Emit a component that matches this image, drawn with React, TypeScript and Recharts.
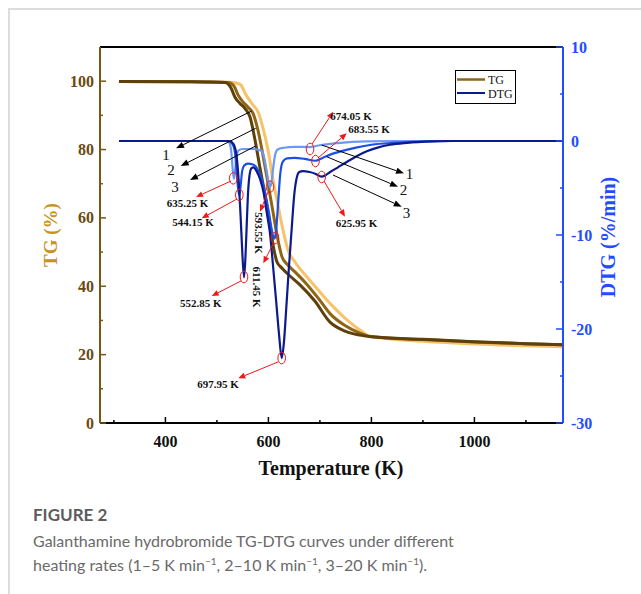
import React from 'react';
import { ComposedChart, Line, XAxis, YAxis, ReferenceLine, ReferenceDot } from 'recharts';

// ---------- data (Temperature K, value) ----------
const TG_1: [number, number][] = [
  [310, 99.9], [450, 99.8], [515.7, 99.6], [527.4, 98], [535.1, 95.3], [544.8, 93.5], [554.6, 92],
  [564.3, 89.5], [574, 82.8], [583.7, 74.6], [593.4, 66.7], [603.1, 57.9], [610.9, 50.6], [616.7, 47.1],
  [626.4, 45.3], [641.9, 43], [661.3, 40.4], [690.5, 35.6], [719.6, 29.5], [748.7, 26.9], [777.8, 25.7],
  [801, 25.2], [900, 24.5], [1000, 23.8], [1100, 23.2], [1172, 22.9],
];
const TG_2: [number, number][] = [
  [310, 99.9], [450, 99.8], [521.5, 99.6], [533.2, 98.6], [541, 96], [550.7, 93.9], [560.4, 92.4],
  [570.1, 90.6], [579.8, 85.6], [589.5, 78.3], [599.2, 70.1], [608.9, 61.7], [618.6, 53.5], [626.4, 48.6],
  [636.1, 46.5], [651.6, 44.2], [671, 41.2], [696.3, 36.6], [719.6, 32], [748.7, 28.5], [777.8, 26.3],
  [801, 25.2], [900, 24.4], [1000, 23.7], [1100, 23.2], [1172, 22.9],
];
const TG_3: [number, number][] = [
  [310, 99.9], [450, 99.8], [525.4, 99.7], [544.8, 99.1], [556.5, 96], [568.1, 93.4], [579.8, 91],
  [589.5, 86.3], [599.2, 79.9], [608.9, 71.1], [618.6, 63.8], [628.3, 56.5], [638, 50.6], [651.6, 47.1],
  [674.9, 42.7], [700.1, 38.3], [719.6, 35], [748.7, 30.7], [777.8, 27.2], [801, 25.2], [900, 23.9],
  [1000, 23.1], [1100, 22.6], [1172, 22.3],
];

const DTG_1: [number, number][] = [
  [310, 0], [520, 0], [525, -0.3], [528, -1.2], [531, -3.2], [533, -4.0], [535, -3.3], [538, -1.8],
  [542, -1.0], [550, -0.85], [570, -0.85], [585, -1.0], [591, -1.6], [596, -3.0], [600, -4.3], [603, -4.9],
  [606, -4.4], [609, -3.0], [613, -1.5], [618, -0.9], [630, -0.72], [650, -0.62], [680, -0.65], [700, -0.45],
  [740, -0.2], [790, -0.05], [850, 0], [1172, 0],
];
const DTG_2: [number, number][] = [
  [310, 0], [522, 0], [530, -0.3], [535, -1.2], [538, -3], [541, -5], [543.5, -5.8], [546, -4.8],
  [549, -3.2], [553, -2.6], [560, -2.4], [570, -2.5], [578, -2.9], [586, -3.9], [594, -5.6], [601, -7.6],
  [607, -9.6], [611.5, -10.4], [615, -9.5], [619, -6.5], [623, -3.5], [628, -2.2], [636, -1.85], [650, -1.8],
  [670, -1.9], [691, -2.1], [705, -1.8], [720, -1.45], [740, -1.1], [770, -0.7], [800, -0.4], [840, -0.2],
  [880, -0.1], [950, 0], [1172, 0],
];
const DTG_3: [number, number][] = [
  [310, 0], [524, 0], [532, -0.3], [538, -1.5], [542, -4], [546, -8], [549, -11.5], [552.6, -14.5],
  [555, -12.8], [557.5, -9.5], [560, -6], [563, -3.8], [567, -2.9], [571, -2.8], [577, -3.2], [584, -4.1],
  [591, -5.6], [597, -7.7], [603, -9.8], [609, -13.3], [615, -17], [621, -20.8], [625.8, -23.1], [630, -21.5],
  [635, -17.5], [640, -13.3], [645, -9.5], [650, -5.8], [655, -3.9], [660, -3.3], [667, -3.2], [680, -3.3],
  [692, -3.5], [703, -3.8], [712, -3.6], [720, -3.3], [735, -2.8], [753, -2.2], [772, -1.6], [791, -1.1],
  [812, -0.7], [836, -0.4], [869, -0.2], [920, -0.05], [960, 0], [1172, 0],
];

const X_TICKS = [300, 400, 500, 600, 700, 800, 900, 1000, 1100];
const X_LABELED = [400, 600, 800, 1000];
const TG_TICKS = [0, 10, 20, 30, 40, 50, 60, 70, 80, 90, 100];
const TG_LABELED = [0, 20, 40, 60, 80, 100];
const DTG_TICKS = [-30, -25, -20, -15, -10, -5, 0, 5, 10];
const DTG_LABELED = [-30, -20, -10, 0, 10];

// annotations, in (T, DTG) data coordinates
const BLACK_ARROWS: [number, number, number, number][] = [
  [567.5, 3.19, 420.6, -0.78], [575.3, 1.35, 429.7, -2.66], [575.3, -0.53, 447.8, -4.15],
  [703.5, -0.43, 863.3, -3.44], [713.2, -1.67, 851.6, -4.86], [725.4, -3.62, 858.8, -6.99],
];
const CURVE_LABELS: [string, number, number][] = [
  ['1', 401.2, -1.49], ['2', 410.9, -3.08], ['3', 418.6, -4.9],
  ['1', 874, -3.51], ['2', 862.3, -5.21], ['3', 868.2, -7.66],
];
const PEAK_CIRCLES: [number, number][] = [
  [531.8, -3.97], [543.5, -5.74], [603.1, -4.86], [612.8, -10.32], [552.6, -14.47], [625.8, -23.09],
  [680.8, -0.85], [691.4, -2.13], [703.5, -3.83],
];
const RED_ARROWS: [number, number, number, number][] = [
  [527.4, -4.26, 459.4, -5.96], [539, -6.17, 470.5, -8.22], [599.2, -5.43, 583.7, -7.52],
  [608.9, -10.96, 590.1, -13.01], [546.8, -14.89, 489.9, -16.49], [618.6, -23.51, 541.5, -25.24],
  [684.7, -0.32, 726, 3.12], [696.3, -1.81, 752, 0.82], [707.9, -4.26, 748.7, -8.05],
];
const PEAK_LABELS: [string, number, number, number][] = [
  ['635.25 K', 442.9, -6.6, 0], ['544.15 K', 453.6, -8.67, 0], ['593.55 K', 580.8, -9.79, 90],
  ['611.45 K', 577.8, -15.53, 90], ['552.85 K', 468.5, -17.27, 0], ['697.95 K', 502.1, -25.85, 0],
  ['674.05 K', 760.4, 2.66, 0], ['683.55 K', 795.3, 1.24, 0], ['625.95 K', 771.3, -8.76, 0],
];

const toPts = (a: [number, number][]) => a.map(([T, v]) => ({ T, v }));

const SERIF = '"Liberation Serif", "Times New Roman", serif';
const BROWN_AXIS = '#7a5616';
const BROWN_TXT = '#6b4a10';
const BLUE = '#1f4dff';

const BottomTick = (p: any) => {
  const { x, y, payload } = p;
  const major = X_LABELED.includes(payload.value);
  return (
    <g>
      <line x1={x} y1={y} x2={x} y2={y - (major ? 6 : 3)} stroke="#000" strokeWidth={1.5} />
      {major && (
        <text x={x} y={y + 18} textAnchor="middle" dominantBaseline="central" fontFamily={SERIF}
          fontWeight="bold" fontSize={16} fill="#111">{payload.value}</text>
      )}
    </g>
  );
};
const TopTick = (p: any) => {
  const { x, y, payload } = p;
  const major = X_LABELED.includes(payload.value);
  return <line x1={x} y1={y} x2={x} y2={y + (major ? 6 : 3)} stroke="#000" strokeWidth={1.5} />;
};
const LeftTick = (p: any) => {
  const { x, y, payload } = p;
  const major = TG_LABELED.includes(payload.value);
  return (
    <g>
      <line x1={x} y1={y} x2={x + (major ? 6 : 3)} y2={y} stroke={BROWN_AXIS} strokeWidth={1.5} />
      {major && (
        <text x={x - 6} y={y} textAnchor="end" dominantBaseline="central" fontFamily={SERIF}
          fontWeight="bold" fontSize={16} fill={BROWN_TXT}>{payload.value}</text>
      )}
    </g>
  );
};
const RightTick = (p: any) => {
  const { x, y, payload } = p;
  const major = DTG_LABELED.includes(payload.value);
  return (
    <g>
      <line x1={x} y1={y} x2={x - (major ? 7 : 3)} y2={y} stroke={BLUE} strokeWidth={1.5} />
      {major && (
        <text x={x + 8} y={y} textAnchor="start" dominantBaseline="central" fontFamily={SERIF}
          fontWeight="bold" fontSize={16} fill={BLUE}>{payload.value}</text>
      )}
    </g>
  );
};

const arrowShape = (color: string, width: number, L: number, W: number) => (p: any) => {
  const { x1, y1, x2, y2 } = p;
  if (![x1, y1, x2, y2].every((n) => typeof n === 'number' && isFinite(n))) return <g />;
  const a = Math.atan2(y2 - y1, x2 - x1);
  const bx = x2 - L * Math.cos(a);
  const by = y2 - L * Math.sin(a);
  const pts = `${x2},${y2} ${bx - W * Math.sin(a)},${by + W * Math.cos(a)} ${bx + W * Math.sin(a)},${by - W * Math.cos(a)}`;
  return (
    <g>
      <line x1={x1} y1={y1} x2={bx} y2={by} stroke={color} strokeWidth={width} />
      <polygon points={pts} fill={color} />
    </g>
  );
};
const blackArrow = arrowShape('#000', 1, 8, 3.2);
const redArrow = arrowShape('#f01818', 1, 7, 3);

export default function App() {
  return (
    <div style={{ position: 'absolute', left: 0, top: 0, width: 641, height: 594, overflow: 'hidden', background: '#fff' }}>
      <div style={{ position: 'absolute', left: 8, top: 8, width: 700, height: 700, borderLeft: '2px solid #dcdcdc', borderTop: '2px solid #dcdcdc' }} />
      <div style={{ position: 'absolute', left: 0, top: 0 }}>
        <ComposedChart width={641} height={480} margin={{ top: 46, right: 18, bottom: 17, left: 40 }}>
          <XAxis xAxisId="b" type="number" dataKey="T" domain={[273, 1172]} ticks={X_TICKS} interval={0}
            tickSize={0} tickMargin={0} height={40} axisLine={{ stroke: '#000', strokeWidth: 2 }} tickLine={false}
            tick={(p: any) => <BottomTick {...p} />} />
          <XAxis xAxisId="t" orientation="top" type="number" dataKey="T" domain={[273, 1172]} ticks={X_TICKS}
            interval={0} tickSize={0} tickMargin={0} height={1} axisLine={{ stroke: '#000', strokeWidth: 2 }}
            tickLine={false} tick={(p: any) => <TopTick {...p} />} />
          <YAxis yAxisId="tg" orientation="left" type="number" domain={[0, 110]} ticks={TG_TICKS} interval={0}
            width={60} tickSize={0} tickMargin={0} axisLine={{ stroke: BROWN_AXIS, strokeWidth: 2 }} tickLine={false}
            tick={(p: any) => <LeftTick {...p} />} />
          <YAxis yAxisId="d" orientation="right" type="number" domain={[-30, 10]} ticks={DTG_TICKS} interval={0}
            width={60} tickSize={0} tickMargin={0} axisLine={{ stroke: BLUE, strokeWidth: 2 }} tickLine={false}
            tick={(p: any) => <RightTick {...p} />} />

          <Line xAxisId="b" yAxisId="tg" data={toPts(TG_3)} dataKey="v" type="monotone" stroke="#f7c36a"
            strokeWidth={3} dot={false} activeDot={false} isAnimationActive={false} />
          <Line xAxisId="b" yAxisId="tg" data={toPts(TG_2)} dataKey="v" type="monotone" stroke="#8f6414"
            strokeWidth={3} dot={false} activeDot={false} isAnimationActive={false} />
          <Line xAxisId="b" yAxisId="tg" data={toPts(TG_1)} dataKey="v" type="monotone" stroke="#5e410a"
            strokeWidth={3} dot={false} activeDot={false} isAnimationActive={false} />

          <Line xAxisId="b" yAxisId="d" data={toPts(DTG_1)} dataKey="v" type="monotone" stroke="#6d98f4"
            strokeWidth={2.2} dot={false} activeDot={false} isAnimationActive={false} />
          <Line xAxisId="b" yAxisId="d" data={toPts(DTG_2)} dataKey="v" type="monotone" stroke="#1c4fe6"
            strokeWidth={2.2} dot={false} activeDot={false} isAnimationActive={false} />
          <Line xAxisId="b" yAxisId="d" data={toPts(DTG_3)} dataKey="v" type="monotone" stroke="#0b1a8c"
            strokeWidth={2.2} dot={false} activeDot={false} isAnimationActive={false} />

          {BLACK_ARROWS.map((a, i) => (
            <ReferenceLine key={'ba' + i} xAxisId="b" yAxisId="d" segment={[{ x: a[0], y: a[1] }, { x: a[2], y: a[3] }]}
              stroke="#000" shape={blackArrow} />
          ))}
          {CURVE_LABELS.map((c, i) => (
            <ReferenceDot key={'cl' + i} xAxisId="b" yAxisId="d" x={c[1]} y={c[2]} r={0}
              shape={(p: any) => (
                <text x={p.cx} y={p.cy} textAnchor="middle" dominantBaseline="central" fontFamily={SERIF}
                  fontSize={15} fill="#111">{c[0]}</text>
              )} />
          ))}
          {RED_ARROWS.map((a, i) => (
            <ReferenceLine key={'ra' + i} xAxisId="b" yAxisId="d" segment={[{ x: a[0], y: a[1] }, { x: a[2], y: a[3] }]}
              stroke="#f01818" shape={redArrow} />
          ))}
          {PEAK_CIRCLES.map((c, i) => (
            <ReferenceDot key={'pc' + i} xAxisId="b" yAxisId="d" x={c[0]} y={c[1]} r={4}
              shape={(p: any) => (
                <ellipse cx={p.cx} cy={p.cy} rx={3.8} ry={5.8} fill="none" stroke="#f01818" strokeWidth={1} />
              )} />
          ))}
          {PEAK_LABELS.map((l, i) => (
            <ReferenceDot key={'pl' + i} xAxisId="b" yAxisId="d" x={l[1]} y={l[2]} r={0}
              shape={(p: any) => (
                <text x={p.cx} y={p.cy} textAnchor="middle" dominantBaseline="central" fontFamily={SERIF}
                  fontWeight="bold" fontSize={11} fill="#111"
                  transform={l[3] ? `rotate(${l[3]} ${p.cx} ${p.cy})` : undefined}>{l[0]}</text>
              )} />
          ))}
        </ComposedChart>
      </div>

      <svg width={641} height={480} style={{ position: 'absolute', left: 0, top: 0, pointerEvents: 'none' }}>
        <text x={50} y={235} transform="rotate(-90 50 235)" textAnchor="middle" dominantBaseline="central"
          fontFamily={SERIF} fontWeight="bold" fontSize={19} fill="#c8921c">TG (%)</text>
        <text x={608} y={237} transform="rotate(-90 608 237)" textAnchor="middle" dominantBaseline="central"
          fontFamily={SERIF} fontWeight="bold" fontSize={20} fill={BLUE}>DTG (%/min)</text>
        <text x={331} y={468} textAnchor="middle" dominantBaseline="central"
          fontFamily={SERIF} fontWeight="bold" fontSize={20} fill="#111">Temperature (K)</text>
        <rect x={455.5} y={70.5} width={60} height={33} fill="#fff" stroke="#000" strokeWidth={1} />
        <line x1={457} y1={79.5} x2={485} y2={79.5} stroke="#8b6420" strokeWidth={2.5} />
        <line x1={457} y1={93} x2={485} y2={93} stroke="#0b1a8c" strokeWidth={2} />
        <text x={488} y={80} dominantBaseline="central" fontFamily={SERIF} fontSize={12} fill="#111">TG</text>
        <text x={488} y={93.5} dominantBaseline="central" fontFamily={SERIF} fontSize={12} fill="#111">DTG</text>
      </svg>

      <div style={{ position: 'absolute', left: 33, top: 504, fontFamily: 'Lato, "Open Sans", sans-serif', color: '#6a6a6a' }}>
        <div style={{ fontSize: 17, fontWeight: 700, lineHeight: '22px', color: '#5c5c5c' }}>FIGURE 2</div>
        <div style={{ fontSize: 16, lineHeight: '24px', marginTop: 3 }}>
          Galanthamine hydrobromide TG-DTG curves under different<br />
          heating rates (1–5 K min<sup style={{ fontSize: 10, lineHeight: 0 }}>−1</sup>, 2–10 K min
          <sup style={{ fontSize: 10, lineHeight: 0 }}>−1</sup>, 3–20 K min<sup style={{ fontSize: 10, lineHeight: 0 }}>−1</sup>).
        </div>
      </div>
    </div>
  );
}
